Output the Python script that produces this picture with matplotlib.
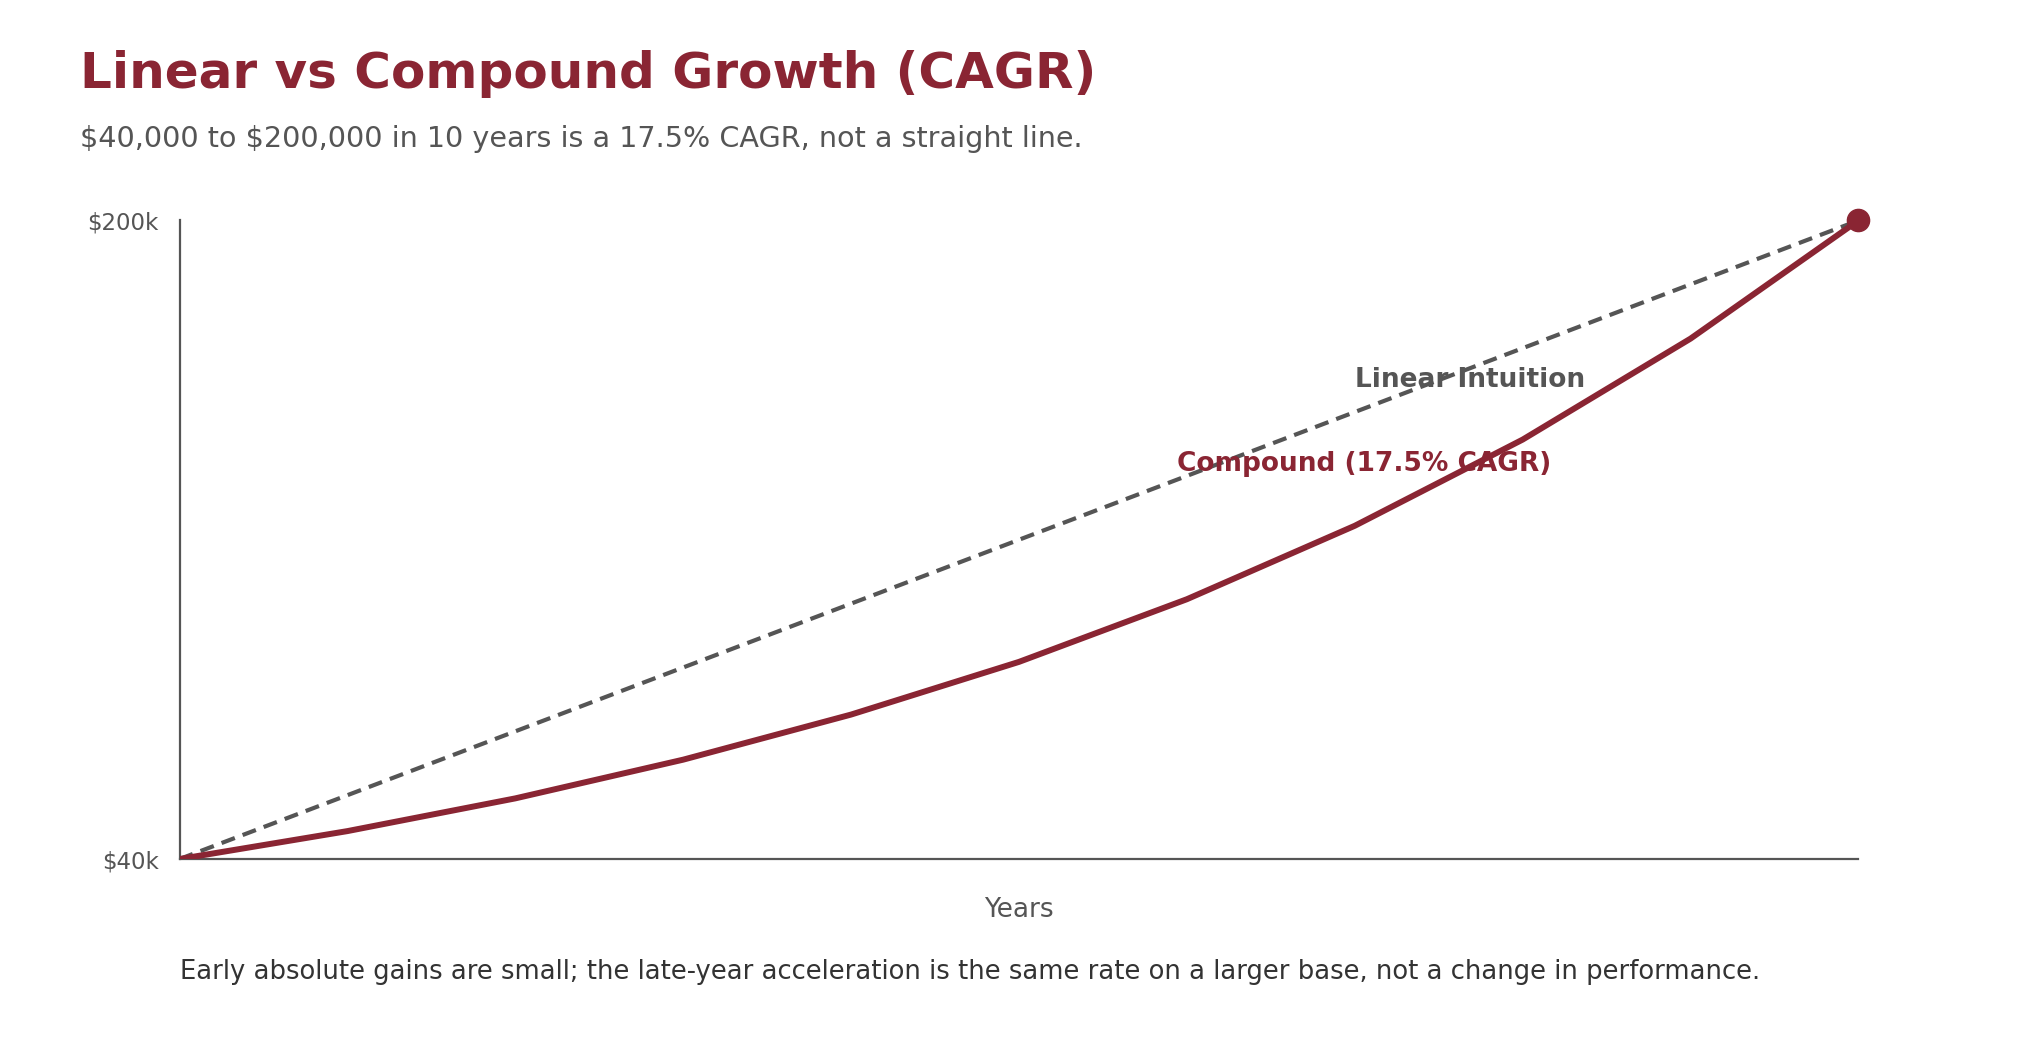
import matplotlib
matplotlib.use("Agg")
import matplotlib.pyplot as plt

# Data: $40k growing to $200k over 10 years
years = [0, 1, 2, 3, 4, 5, 6, 7, 8, 9, 10]
compound = [40000, 47000, 55200, 64900, 76200, 89400, 105100, 123500, 145100, 170400, 200000]
linear_years = [0, 10]
linear = [40000, 200000]
ytick_vals = [40000, 200000]
ytick_labels = ["\\$40k", "\\$200k"]

# Colours
RED = "#8A2533"
GRAY = "#555555"

plt.rcParams['font.family'] = ['DejaVu Sans']

fig = plt.figure(figsize=(20.4, 10.4), dpi=100)
ax = fig.add_axes([0.088, 0.174, 0.823, 0.614])

ax.plot(linear_years, linear, color=GRAY, lw=3.0, linestyle=(0, (3.4, 2.0)), zorder=2)
ax.plot(years, compound, color=RED, lw=4.3, solid_capstyle='round', zorder=3)
ax.plot(years[-1], compound[-1], 'o', color=RED, markersize=16, clip_on=False, zorder=4)

ax.text(7.0, 160000, "Linear Intuition", color=GRAY, fontsize=19, fontweight='bold',
        ha='left', va='center')
ax.text(5.94, 139000, "Compound (17.5% CAGR)", color=RED, fontsize=19, fontweight='bold',
        ha='left', va='center')

ax.set_xlim(0, 10)
ax.set_ylim(40000, 200000)
ax.set_xticks([])
ax.set_yticks(ytick_vals)
ax.set_yticklabels(ytick_labels)
ax.tick_params(axis='y', length=0, pad=15, labelsize=16.5, labelcolor=GRAY)

for side in ['top', 'right']:
    ax.spines[side].set_visible(False)
for side in ['left', 'bottom']:
    ax.spines[side].set_color(GRAY)
    ax.spines[side].set_linewidth(1.6)

ax.set_xlabel("Years", fontsize=19, color=GRAY, labelpad=27)

# Title, subtitle and footer note
fig.text(0.039, 0.929, "Linear vs Compound Growth (CAGR)", fontsize=36, fontweight='bold',
         color=RED, ha='left', va='center')
fig.text(0.039, 0.866, "\\$40,000 to \\$200,000 in 10 years is a 17.5% CAGR, not a straight line.",
         fontsize=20.6, color=GRAY, ha='left', va='center')
fig.text(0.088, 0.065, "Early absolute gains are small; the late-year acceleration is the same rate "
         "on a larger base, not a change in performance.",
         fontsize=18.6, color="#333333", ha='left', va='center')

fig.savefig("out.png", dpi=100)
